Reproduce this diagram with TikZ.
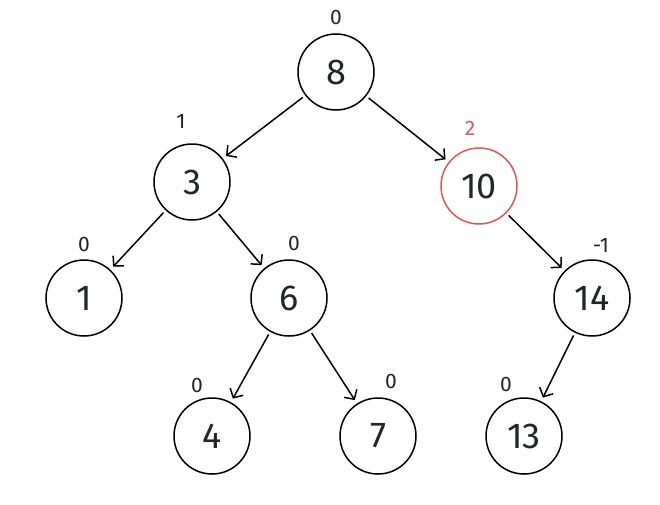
\documentclass[tikz,border=0pt]{standalone}
\usepackage{fontspec}
\setmainfont{Fira Sans}
\usetikzlibrary{arrows.meta}
\definecolor{avlred}{HTML}{D65A58}
\definecolor{avlink}{HTML}{22252B}

\begin{document}
\begin{tikzpicture}[x=1pt, y=-1pt,
  key/.style={draw, circle, line width=1.5pt, minimum size=76pt, inner sep=0pt,
              font=\fontsize{36}{36}\selectfont, text=avlink},
  bal/.style={font=\fontsize{21}{21}\selectfont, text=avlink, inner sep=0pt},
  link/.style={-{Straight Barb[length=7pt,width=15pt,line width=1.5pt]}, line width=1.5pt,
               shorten <=3pt, shorten >=4pt},
]
\useasboundingbox (0,0) rectangle (660,504);
% keys
\node[key] (n8)  at (336,72)  {8};
\node[key] (n3)  at (192,182) {3};
\node[key, draw=avlred] (n10) at (479,186) {10};
\node[key] (n1)  at (84,298)  {1};
\node[key] (n6)  at (289,298) {6};
\node[key] (n14) at (592,298) {14};
\node[key] (n4)  at (212,436) {4};
\node[key] (n7)  at (378,436) {7};
\node[key] (n13) at (524,436) {13};
% balance factors
\node[bal] (b8)  at (336,17)  {0};
\node[bal] (b3)  at (181,121) {1};
\node[bal, text=avlred] (b10) at (470,128) {2};
\node[bal] (b1)  at (84,244)  {0};
\node[bal] (b6)  at (294,243) {0};
\node[bal] (b14) at (601,245) {-1};
\node[bal] (b4)  at (197,385) {0};
\node[bal] (b7)  at (391,381) {0};
\node[bal] (b13) at (506,384) {0};
% edges
\draw[link] (n8) -- (n3);
\draw[link] (n8) -- (n10);
\draw[link] (n3) -- (n1);
\draw[link] (n3) -- (n6);
\draw[link] (n10) -- (n14);
\draw[link] (n6) -- (n4);
\draw[link] (n6) -- (n7);
\draw[link] (n14) -- (n13);
\end{tikzpicture}
\end{document}
